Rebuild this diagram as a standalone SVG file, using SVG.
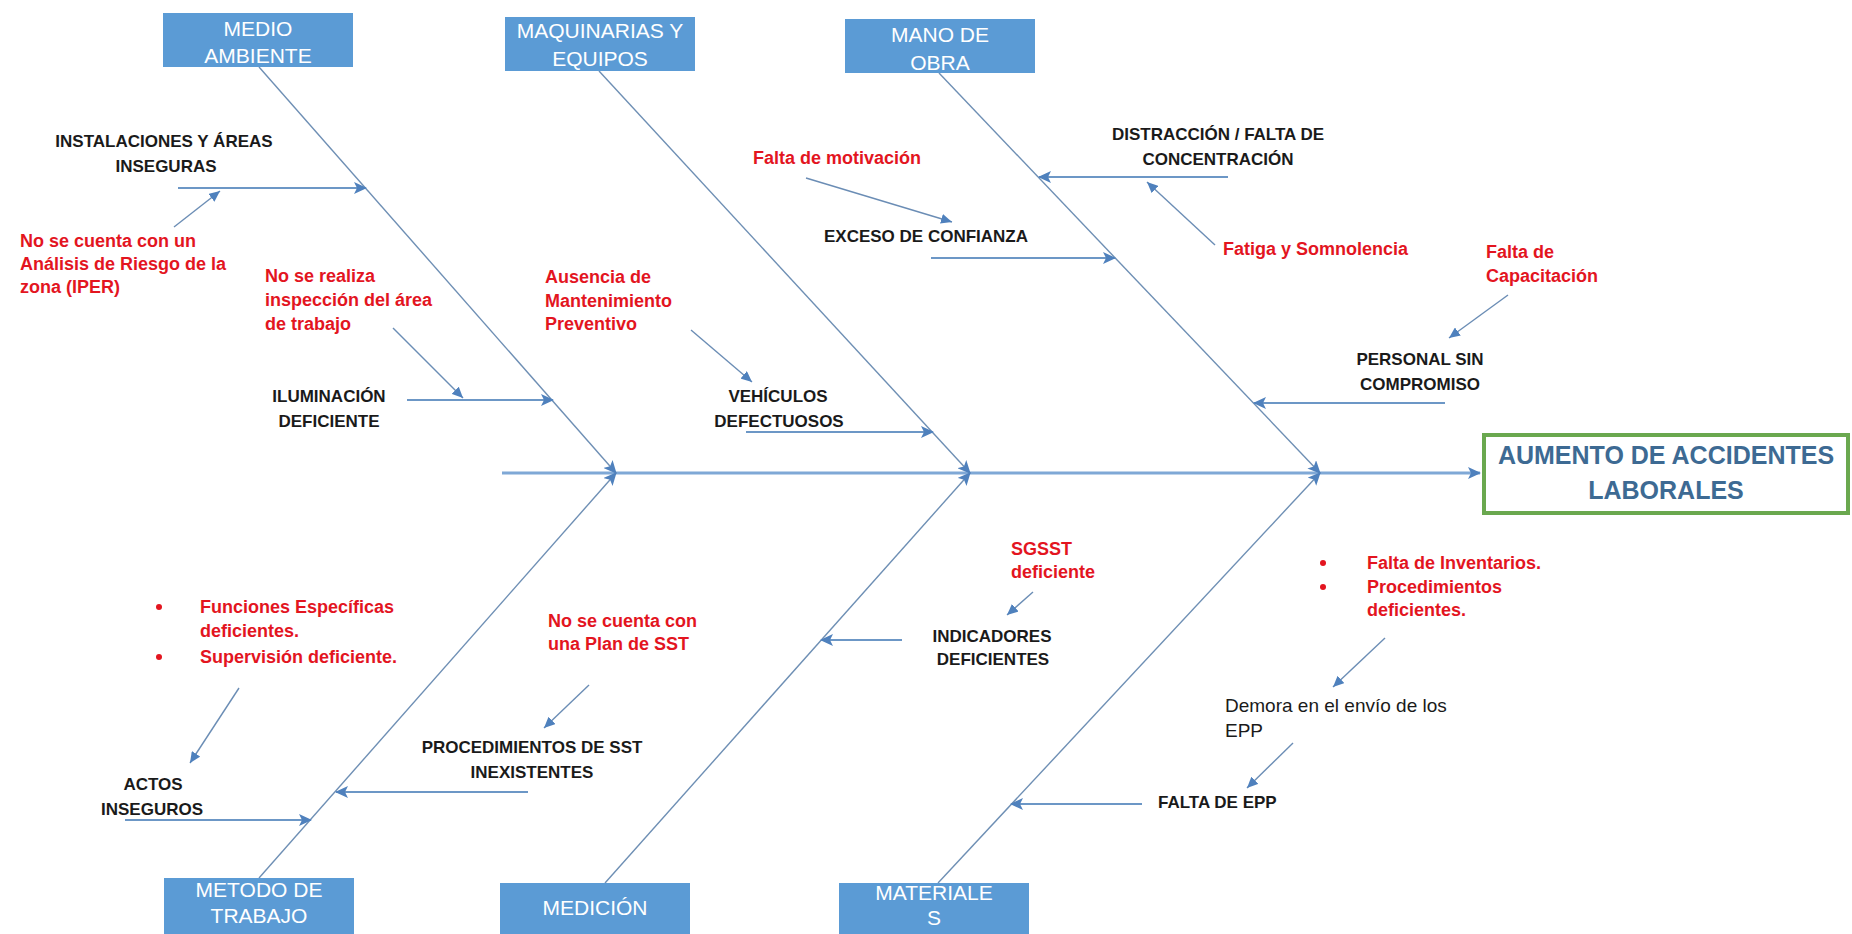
<svg xmlns="http://www.w3.org/2000/svg" width="1852" height="934" viewBox="0 0 1852 934">
<defs>
<marker id="ah" markerUnits="userSpaceOnUse" markerWidth="14" markerHeight="12" refX="12" refY="6" orient="auto">
<path d="M0,0 L13,6 L0,12 L3,6 Z" fill="#4F81BD"/>
</marker>
<marker id="ahs" markerUnits="userSpaceOnUse" markerWidth="12" markerHeight="10" refX="11" refY="5" orient="auto">
<path d="M0,0 L11,5 L0,10 Z" fill="#4F81BD"/>
</marker>
</defs>
<style>
.box{fill:#5B9BD5}
.bt{font-family:"Liberation Sans",Arial,sans-serif;font-size:21px;fill:#ffffff;text-anchor:middle}
.lb{font-family:"Liberation Sans",Arial,sans-serif;font-size:17px;font-weight:bold;fill:#1a1a1a}
.c{text-anchor:middle}
.rd{font-family:"Liberation Sans",Arial,sans-serif;font-size:18px;font-weight:bold;fill:#E3151F}
.rg{font-family:"Liberation Sans",Arial,sans-serif;font-size:19px;fill:#1a1a1a}
.spine{stroke:#7FA8D6;stroke-width:3;fill:none}
.bone{stroke:#6E8FB4;stroke-width:1.4;fill:none}
.ca{stroke:#6C97C6;stroke-width:2;fill:none}
.sa{stroke:#6B8DB5;stroke-width:1.4;fill:none}
.eff{fill:#ffffff;stroke:#6AA84F;stroke-width:4}
.et{font-family:"Liberation Sans",Arial,sans-serif;font-size:25px;font-weight:bold;fill:#3D6A93;text-anchor:middle}
</style>
<rect width="1852" height="934" fill="#ffffff"/>

<g id="connectors">
<line class="spine" x1="502" y1="473" x2="1480" y2="473" marker-end="url(#ah)"/>
<line class="bone" x1="259" y1="67" x2="616" y2="473" marker-end="url(#ah)"/>
<line class="bone" x1="259" y1="878" x2="616" y2="473" marker-end="url(#ah)"/>
<line class="bone" x1="599" y1="71" x2="970" y2="473" marker-end="url(#ah)"/>
<line class="bone" x1="605" y1="883" x2="970" y2="473" marker-end="url(#ah)"/>
<line class="bone" x1="939" y1="73" x2="1320" y2="473" marker-end="url(#ah)"/>
<line class="bone" x1="938" y1="883" x2="1320" y2="473" marker-end="url(#ah)"/>

<line class="ca" x1="178" y1="188" x2="366" y2="188" marker-end="url(#ah)"/>
<line class="sa" x1="174" y1="227" x2="220" y2="191" marker-end="url(#ahs)"/>
<line class="ca" x1="407" y1="400" x2="553" y2="400" marker-end="url(#ah)"/>
<line class="sa" x1="393" y1="328" x2="463" y2="398" marker-end="url(#ahs)"/>
<line class="ca" x1="746" y1="432" x2="933" y2="432" marker-end="url(#ah)"/>
<line class="sa" x1="691" y1="330" x2="752" y2="382" marker-end="url(#ahs)"/>
<line class="ca" x1="931" y1="258" x2="1115" y2="258" marker-end="url(#ah)"/>
<line class="sa" x1="806" y1="178" x2="952" y2="222" marker-end="url(#ahs)"/>
<line class="ca" x1="1228" y1="177" x2="1039" y2="177" marker-end="url(#ah)"/>
<line class="sa" x1="1215" y1="245" x2="1147" y2="182" marker-end="url(#ahs)"/>
<line class="ca" x1="1445" y1="403" x2="1254" y2="403" marker-end="url(#ah)"/>
<line class="sa" x1="1508" y1="295" x2="1449" y2="338" marker-end="url(#ahs)"/>
<line class="ca" x1="125" y1="820" x2="311" y2="820" marker-end="url(#ah)"/>
<line class="sa" x1="239" y1="688" x2="190" y2="763" marker-end="url(#ahs)"/>
<line class="ca" x1="528" y1="792" x2="336" y2="792" marker-end="url(#ah)"/>
<line class="sa" x1="589" y1="685" x2="544" y2="728" marker-end="url(#ahs)"/>
<line class="ca" x1="902" y1="640" x2="821" y2="640" marker-end="url(#ah)"/>
<line class="sa" x1="1033" y1="592" x2="1007" y2="615" marker-end="url(#ahs)"/>
<line class="ca" x1="1142" y1="804" x2="1011" y2="804" marker-end="url(#ah)"/>
<line class="sa" x1="1293" y1="743" x2="1247" y2="788" marker-end="url(#ahs)"/>
<line class="sa" x1="1385" y1="638" x2="1333" y2="687" marker-end="url(#ahs)"/>
</g>

<g id="medio-ambiente">
<rect class="box" x="163" y="13" width="190" height="54"/>
<text class="bt" x="258" y="36">MEDIO</text>
<text class="bt" x="258" y="63">AMBIENTE</text>
</g>
<g id="maquinarias">
<rect class="box" x="505" y="17" width="190" height="54"/>
<text class="bt" x="600" y="38">MAQUINARIAS Y</text>
<text class="bt" x="600" y="66">EQUIPOS</text>
</g>
<g id="mano-obra">
<rect class="box" x="845" y="19" width="190" height="54"/>
<text class="bt" x="940" y="42">MANO DE</text>
<text class="bt" x="940" y="70">OBRA</text>
</g>
<g id="metodo">
<rect class="box" x="164" y="878" width="190" height="56"/>
<text class="bt" x="259" y="897">METODO DE</text>
<text class="bt" x="259" y="923">TRABAJO</text>
</g>
<g id="medicion">
<rect class="box" x="500" y="883" width="190" height="51"/>
<text class="bt" x="595" y="915">MEDICIÓN</text>
</g>
<g id="materiales">
<rect class="box" x="839" y="883" width="190" height="51"/>
<text class="bt" x="934" y="900">MATERIALE</text>
<text class="bt" x="934" y="925">S</text>
</g>
<g id="efecto">
<rect class="eff" x="1484" y="435" width="364" height="78"/>
<text class="et" x="1666" y="464">AUMENTO DE ACCIDENTES</text>
<text class="et" x="1666" y="499">LABORALES</text>
</g>

<g id="instalaciones">
<text class="lb c" x="164" y="147">INSTALACIONES Y ÁREAS</text>
<text class="lb c" x="166" y="172">INSEGURAS</text>
</g>
<g id="iper">
<text class="rd" x="20" y="247">No se cuenta con un</text>
<text class="rd" x="20" y="270">Análisis de Riesgo de la</text>
<text class="rd" x="20" y="293">zona (IPER)</text>
</g>
<g id="inspeccion">
<text class="rd" x="265" y="282">No se realiza</text>
<text class="rd" x="265" y="306">inspección del área</text>
<text class="rd" x="265" y="330">de trabajo</text>
</g>
<g id="iluminacion">
<text class="lb c" x="329" y="402">ILUMINACIÓN</text>
<text class="lb c" x="329" y="427">DEFICIENTE</text>
</g>
<g id="ausencia">
<text class="rd" x="545" y="283">Ausencia de</text>
<text class="rd" x="545" y="307">Mantenimiento</text>
<text class="rd" x="545" y="330">Preventivo</text>
</g>
<g id="vehiculos">
<text class="lb c" x="778" y="402">VEHÍCULOS</text>
<text class="lb c" x="779" y="427">DEFECTUOSOS</text>
</g>
<g id="motivacion">
<text class="rd" x="753" y="164">Falta de motivación</text>
</g>
<g id="exceso">
<text class="lb c" x="926" y="242">EXCESO DE CONFIANZA</text>
</g>
<g id="distraccion">
<text class="lb c" x="1218" y="140">DISTRACCIÓN / FALTA DE</text>
<text class="lb c" x="1218" y="165">CONCENTRACIÓN</text>
</g>
<g id="fatiga">
<text class="rd" x="1223" y="255">Fatiga y Somnolencia</text>
</g>
<g id="capacitacion">
<text class="rd" x="1486" y="258">Falta de</text>
<text class="rd" x="1486" y="282">Capacitación</text>
</g>
<g id="personal">
<text class="lb c" x="1420" y="365">PERSONAL SIN</text>
<text class="lb c" x="1420" y="390">COMPROMISO</text>
</g>
<g id="funciones">
<circle cx="159" cy="607" r="3" fill="#E3151F"/>
<circle cx="159" cy="657" r="3" fill="#E3151F"/>
<text class="rd" x="200" y="613">Funciones Específicas</text>
<text class="rd" x="200" y="637">deficientes.</text>
<text class="rd" x="200" y="663">Supervisión deficiente.</text>
</g>
<g id="actos">
<text class="lb c" x="153" y="790">ACTOS</text>
<text class="lb c" x="152" y="815">INSEGUROS</text>
</g>
<g id="plan-sst">
<text class="rd" x="548" y="627">No se cuenta con</text>
<text class="rd" x="548" y="650">una Plan de SST</text>
</g>
<g id="procedimientos">
<text class="lb c" x="532" y="753">PROCEDIMIENTOS DE SST</text>
<text class="lb c" x="532" y="778">INEXISTENTES</text>
</g>
<g id="sgsst">
<text class="rd" x="1011" y="555">SGSST</text>
<text class="rd" x="1011" y="578">deficiente</text>
</g>
<g id="indicadores">
<text class="lb c" x="992" y="642">INDICADORES</text>
<text class="lb c" x="993" y="665">DEFICIENTES</text>
</g>
<g id="inventarios">
<circle cx="1323" cy="563" r="3" fill="#E3151F"/>
<circle cx="1323" cy="587" r="3" fill="#E3151F"/>
<text class="rd" x="1367" y="569">Falta de Inventarios.</text>
<text class="rd" x="1367" y="593">Procedimientos</text>
<text class="rd" x="1367" y="616">deficientes.</text>
</g>
<g id="demora">
<text class="rg" x="1225" y="712">Demora en el envío de los</text>
<text class="rg" x="1225" y="737">EPP</text>
</g>
<g id="falta-epp">
<text class="lb" x="1158" y="808">FALTA DE EPP</text>
</g>
</svg>
